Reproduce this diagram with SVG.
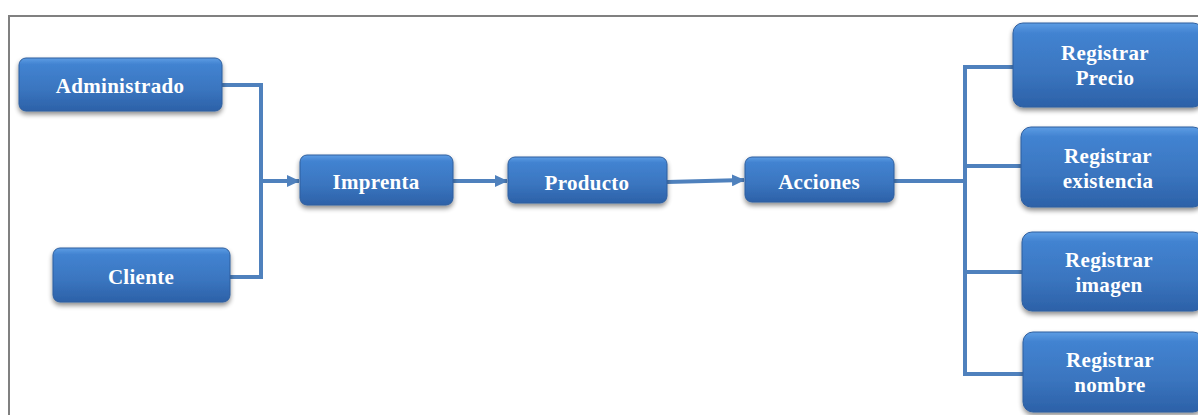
<svg xmlns="http://www.w3.org/2000/svg" width="1198" height="415" viewBox="0 0 1198 415">
<style>
.box{fill:url(#g);stroke:#2f5f9e;stroke-width:1;filter:url(#sh)}
.t{font-family:"Liberation Serif","Times New Roman",serif;font-weight:bold;font-size:21px;fill:#fff;text-anchor:middle;letter-spacing:0.3px}
.c{fill:none;stroke:#4f81bd;stroke-width:4}
</style>
<defs>
<linearGradient id="g" x1="0" y1="0" x2="0" y2="1">
<stop offset="0" stop-color="#5d9de4"/>
<stop offset="0.12" stop-color="#4283d1"/>
<stop offset="0.6" stop-color="#3a75bf"/>
<stop offset="1" stop-color="#2c61a8"/>
</linearGradient>
<filter id="sh" x="-10%" y="-20%" width="120%" height="160%">
<feGaussianBlur in="SourceAlpha" stdDeviation="2.5"/>
<feOffset dy="3" result="b"/>
<feComponentTransfer><feFuncA type="linear" slope="0.45"/></feComponentTransfer>
<feMerge><feMergeNode/><feMergeNode in="SourceGraphic"/></feMerge>
</filter>
<marker id="ar" markerWidth="13" markerHeight="12" refX="12" refY="6" orient="auto" markerUnits="userSpaceOnUse" viewBox="0 0 13 12">
<path d="M0,0 L13,6 L0,12 z" fill="#4f81bd"/>
</marker>
</defs>
<rect x="0" y="0" width="1198" height="415" fill="#fff"/>
<path d="M9,415 V16 H1198" fill="none" stroke="#808080" stroke-width="2"/>
<g id="connectors">
<path class="c" d="M222,85 H261 V277 H230"/>
<path class="c" d="M261,181 H299" marker-end="url(#ar)"/>
<path class="c" d="M453,181 H507" marker-end="url(#ar)"/>
<path class="c" d="M667,182 L744,180" marker-end="url(#ar)"/>
<path class="c" d="M894,181 H965"/>
<path class="c" d="M1013,67 H965 V374 H1023"/>
<path class="c" d="M965,166 H1021"/>
<path class="c" d="M965,272 H1022"/>
</g>
<g id="n-administrado"><rect class="box" x="19" y="58" width="203" height="53" rx="7"/><text class="t" x="120" y="93">Administrado</text></g>
<g id="n-cliente"><rect class="box" x="53" y="248" width="177" height="54" rx="7"/><text class="t" x="141" y="284">Cliente</text></g>
<g id="n-imprenta"><rect class="box" x="300" y="155" width="153" height="50" rx="7"/><text class="t" x="376" y="189">Imprenta</text></g>
<g id="n-producto"><rect class="box" x="508" y="157" width="159" height="46" rx="7"/><text class="t" x="587" y="190">Producto</text></g>
<g id="n-acciones"><rect class="box" x="745" y="157" width="149" height="45" rx="7"/><text class="t" x="819" y="189">Acciones</text></g>
<g id="n-precio"><rect class="box" x="1013" y="23" width="190" height="84" rx="10"/><text class="t" x="1105" y="60">Registrar</text><text class="t" x="1105" y="85">Precio</text></g>
<g id="n-existencia"><rect class="box" x="1021" y="127" width="182" height="80" rx="10"/><text class="t" x="1108" y="163">Registrar</text><text class="t" x="1108" y="188">existencia</text></g>
<g id="n-imagen"><rect class="box" x="1022" y="232" width="181" height="79" rx="10"/><text class="t" x="1109" y="267">Registrar</text><text class="t" x="1109" y="292">imagen</text></g>
<g id="n-nombre"><rect class="box" x="1023" y="332" width="180" height="80" rx="10"/><text class="t" x="1110" y="367">Registrar</text><text class="t" x="1110" y="392">nombre</text></g>
</svg>
